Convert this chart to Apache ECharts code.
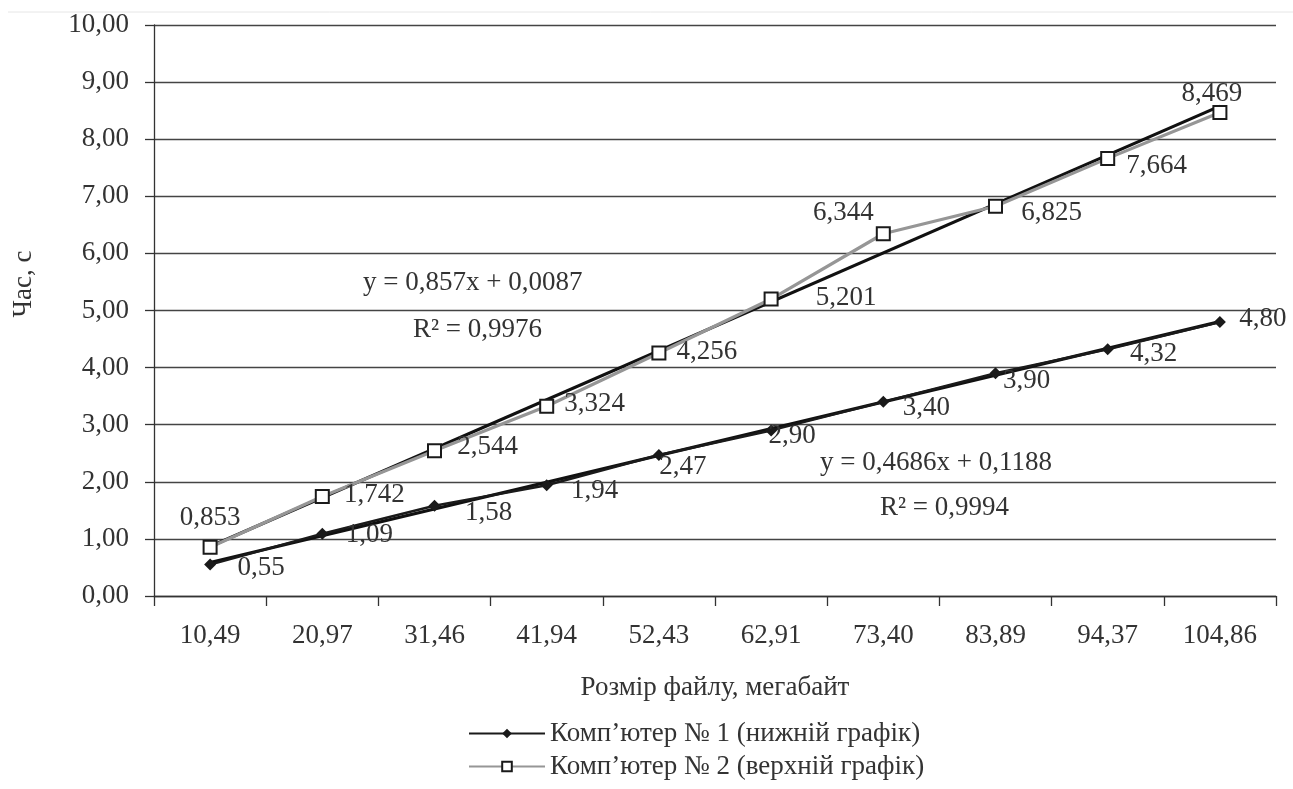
<!DOCTYPE html>
<html>
<head>
<meta charset="utf-8">
<script src="https://cdn.jsdelivr.net/npm/echarts@6/dist/echarts.min.js"></script>
<style>
html,body{margin:0;padding:0;background:#fff;}
#chart{width:1293px;height:789px;}
</style>
</head>
<body>
<div id="chart"></div>
<script>
const categories = ['10,49','20,97','31,46','41,94','52,43','62,91','73,40','83,89','94,37','104,86'];
const pc1Values = [0.55, 1.09, 1.58, 1.94, 2.47, 2.90, 3.40, 3.90, 4.32, 4.80];
const pc2Values = [0.853, 1.742, 2.544, 3.324, 4.256, 5.201, 6.344, 6.825, 7.664, 8.469];
const trend1Coef = [0.4686, 0.1188];
const trend2Coef = [0.857, 0.0087];
const seriesNames = ['Комп’ютер № 1 (нижній графік)', 'Комп’ютер № 2 (верхній графік)'];
const yTicks = { min: 0, max: 10, interval: 1 };

// label offsets (styling only)
const pc1LabelOffsets = [[51,3],[47,1],[54,7],[48,6],[24,12],[21,5],[43,6],[31,8],[46,5],[43,-3]];
const pc2LabelOffsets = [[0,-29],[52,-2],[53,-4],[48,-2],[48,-1],[75,-1],[-40,-21],[56,7],[49,8],[-8,-19]];

const FONT = '"Liberation Serif", "DejaVu Serif", serif';
const FS = 27;
const TXT = '#333';

function fmt(v, d){ return v.toFixed(d).replace('.', ','); }

function trendPoints(coef){
  const n = categories.length;
  return [[categories[0], coef[0]*1 + coef[1]], [categories[n-1], coef[0]*n + coef[1]]];
}

function labeled(values, offsets, dec){
  return values.map((v,i)=>({
    value: v,
    label: { show:true, position:'inside', offset: offsets[i], formatter: fmt(v,dec),
      color: TXT, fontFamily: FONT, fontSize: FS, textBorderWidth: 0, align:'center', verticalAlign:'middle' }
  }));
}

const chart = echarts.init(document.getElementById('chart'), null, {renderer:'canvas'});
chart.setOption({
  backgroundColor: '#fff',
  animation: false,
  textStyle: { fontFamily: FONT },
  grid: { left: 154, right: 17, top: 25, bottom: 193, containLabel: false },
  xAxis: {
    type: 'category',
    data: categories,
    boundaryGap: true,
    name: 'Розмір файлу, мегабайт',
    nameLocation: 'middle',
    nameGap: 78,
    nameTextStyle: { color: TXT, fontFamily: FONT, fontSize: FS },
    axisLine: { lineStyle: { color: '#333', width: 1.3 } },
    axisTick: { show: true, length: 10, lineStyle: { color: '#333', width: 1.3 } },
    axisLabel: { color: TXT, fontFamily: FONT, fontSize: FS, margin: 26 },
    splitLine: { show: false }
  },
  yAxis: {
    type: 'value',
    min: yTicks.min, max: yTicks.max, interval: yTicks.interval,
    axisLine: { show: true, lineStyle: { color: '#333', width: 1.3 } },
    axisTick: { show: true, length: 9, lineStyle: { color: '#333', width: 1.3 } },
    axisLabel: { color: TXT, fontFamily: FONT, fontSize: FS, margin: 25, formatter: v => fmt(v,2) },
    splitLine: { show: true, lineStyle: { color: '#444', width: 1.3 } }
  },
  legend: {
    orient: 'vertical',
    left: 463, top: 715,
    itemGap: 6,
    itemWidth: 76, itemHeight: 12,
    data: seriesNames,
    textStyle: { color: TXT, fontFamily: FONT, fontSize: FS }
  },
  graphic: [
    { type:'line', shape:{x1:8,y1:12,x2:1293,y2:12}, style:{stroke:'#e6e6e6', lineWidth:1}, silent:true },
    { type:'text', x:24, y:284, rotation: Math.PI/2, style:{ text:'Час, с', fill:TXT, font:FS+'px '+FONT, align:'center', verticalAlign:'middle' } },
    { type:'text', x:363, y:283, style:{ text:'y = 0,857x + 0,0087', fill:TXT, font:FS+'px '+FONT, verticalAlign:'middle' } },
    { type:'text', x:413, y:330, style:{ text:'R² = 0,9976', fill:TXT, font:FS+'px '+FONT, verticalAlign:'middle' } },
    { type:'text', x:820, y:463, style:{ text:'y = 0,4686x + 0,1188', fill:TXT, font:FS+'px '+FONT, verticalAlign:'middle' } },
    { type:'text', x:880, y:508, style:{ text:'R² = 0,9994', fill:TXT, font:FS+'px '+FONT, verticalAlign:'middle' } }
  ],
  series: [
    {
      name: 'trend2', type: 'line', z: 2, silent: true,
      data: trendPoints(trend2Coef), symbol: 'none',
      lineStyle: { color: '#111', width: 3.2 }
    },
    {
      name: 'trend1', type: 'line', z: 2, silent: true,
      data: trendPoints(trend1Coef), symbol: 'none',
      lineStyle: { color: '#111', width: 3.2 }
    },
    {
      name: seriesNames[0], type: 'line', z: 3,
      data: labeled(pc1Values, pc1LabelOffsets, 2),
      symbol: 'diamond', symbolSize: 12,
      itemStyle: { color: '#1a1a1a' },
      lineStyle: { color: '#1a1a1a', width: 2.5 }
    },
    {
      name: seriesNames[1], type: 'line', z: 3,
      data: labeled(pc2Values, pc2LabelOffsets, 3),
      symbol: 'rect', symbolSize: 13,
      itemStyle: { color: '#fff', borderColor: '#1a1a1a', borderWidth: 2 },
      lineStyle: { color: '#969696', width: 3.2 }
    }
  ]
});
</script>
</body>
</html>
